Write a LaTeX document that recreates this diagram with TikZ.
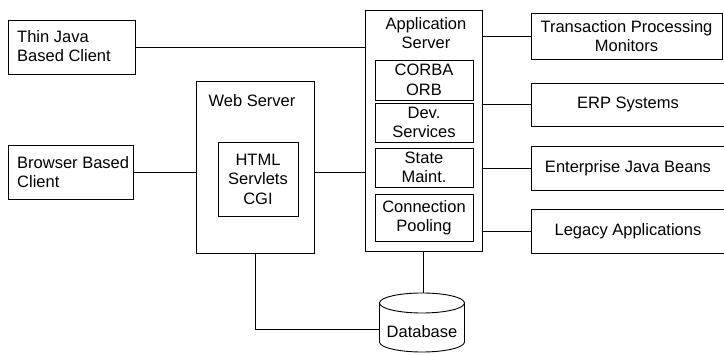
\documentclass[tikz,border=0pt]{standalone}
\usepackage{fontspec}
\setmainfont{Liberation Sans}
\begin{document}
\begin{tikzpicture}[x=1pt,y=-1pt,
  box/.style={draw, line width=0.9pt, inner sep=0pt, align=center},
  lbl/.style={inner sep=0pt, align=center},
  conn/.style={line width=0.9pt},
  every node/.append style={font=\fontsize{16.5}{19.5}\selectfont}]
\useasboundingbox (0,0) rectangle (724,355);
% clients
\node[box, minimum width=127pt, minimum height=54pt] (thin) at (71.5,47) {};
\node[lbl, align=left, anchor=west] (thintext) at (17,46) {Thin Java\\Based Client};
\node[box, minimum width=125pt, minimum height=54pt] (browser) at (70.5,172) {};
\node[lbl, align=left, anchor=west] (browsertext) at (17,172) {Browser Based\\Client};
% web server
\node[box, minimum width=118pt, minimum height=172pt] (ws) at (255,167) {};
\node[lbl] (wslabel) at (252,101) {Web Server};
\node[box, minimum width=80pt, minimum height=74pt] (html) at (258,179) {HTML\\Servlets\\CGI};
% application server
\node[box, minimum width=117pt, minimum height=241pt] (app) at (423.5,130.5) {};
\node[lbl] (applabel) at (426,33) {Application\\Server};
\node[box, minimum width=98pt, minimum height=40pt] (corba) at (424,80) {CORBA\\ORB};
\node[box, minimum width=98pt, minimum height=39pt] (dev) at (424,122.5) {Dev.\\Services};
\node[box, minimum width=98pt, minimum height=39pt] (state) at (424,167.5) {State\\Maint.};
\node[box, minimum width=98pt, minimum height=47pt] (pool) at (424,217.5) {Connection\\Pooling};
% back-end systems
\node[box, minimum width=191pt, minimum height=46pt] (tpm) at (626.5,36) {Transaction Processing\\Monitors};
\node[box, minimum width=194pt, minimum height=43pt] (erp) at (628,104.5) {ERP Systems};
\node[box, minimum width=194pt, minimum height=44pt] (ejb) at (628,168) {Enterprise Java Beans};
\node[box, minimum width=194pt, minimum height=44pt] (legacy) at (628,231) {Legacy Applications};
% database
\node[lbl] (db) at (422,332) {Database};
\draw[line width=0.9pt] (422,303) ellipse [x radius=42.5, y radius=10];
\draw[line width=0.9pt] (379.5,303) -- (379.5,342) arc[start angle=180, end angle=0, x radius=42.5, y radius=10] -- (464.5,303);
\coordinate (dbtop) at (423.5,293);
\coordinate (dbleft) at (379.5,329);
% connectors
\draw[conn] (thin.east) -- (thin.east -| app.west);
\draw[conn] (browser.east) -- (browser.east -| ws.west);
\draw[conn] (ws.east |- browser) -- (app.west |- browser);
\draw[conn] (app.east |- tpm) -- (tpm.west);
\draw[conn] (app.east |- erp) -- (erp.west);
\draw[conn] (app.east |- ejb) -- (ejb.west);
\draw[conn] (app.east |- legacy) -- (legacy.west);
\draw[conn] (app.south) -- (dbtop);
\draw[conn] (ws.south) |- (dbleft);
\end{tikzpicture}
\end{document}
